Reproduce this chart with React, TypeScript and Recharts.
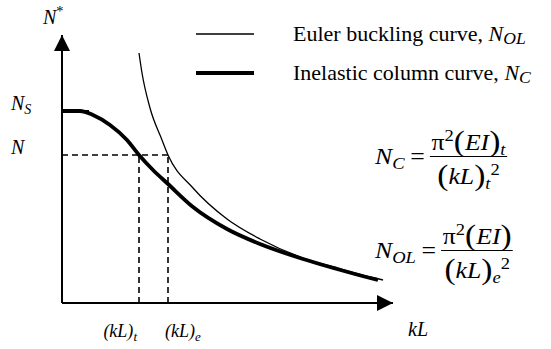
import React from "react"
import { ComposedChart, Line, XAxis, YAxis, ReferenceLine, ReferenceDot, Legend } from "recharts"

// schematic units: kL across, N* up
const eulerCurve = [
  { x: 77, y: 250 }, { x: 80, y: 230 }, { x: 88, y: 195 }, { x: 100, y: 163 },
  { x: 106, y: 148 }, { x: 131, y: 115 }, { x: 165, y: 84 }, { x: 198, y: 64 },
  { x: 241, y: 45 }, { x: 275, y: 35 }, { x: 308, y: 26 }, { x: 321, y: 23 },
]
const inelasticCurve = [
  { x: 0, y: 192 }, { x: 18, y: 192 }, { x: 31, y: 188 }, { x: 48, y: 178 },
  { x: 65, y: 163 }, { x: 77, y: 148 }, { x: 91, y: 133 }, { x: 106, y: 119 },
  { x: 131, y: 96 }, { x: 165, y: 74 }, { x: 198, y: 59 }, { x: 241, y: 44 },
  { x: 275, y: 34 }, { x: 308, y: 25 }, { x: 316, y: 23 },
]
const squashLoad = 192
const squashStubEnd = 27
const loadLevel = 148
const kLt = 77
const kLe = 106
const xMax = 331
const yMax = 268

const xTicks = [kLt, kLe]
const xTickSubs = ["t", "e"]
const yTicks = [loadLevel, squashLoad]
const yTickSubs = ["", "S"]

const legendNames = ["Euler buckling curve, ", "Inelastic column curve, "]
const legendSubs = ["OL", "C"]
const legendWidths = [1.3, 4]

const serif = "'Liberation Serif', 'Times New Roman', serif"

function Sub({ children, top = 0.28, size = 0.72 }: { children: React.ReactNode; top?: number; size?: number }) {
  return <span style={{ fontSize: `${size}em`, position: "relative", top: `${top}em` }}>{children}</span>
}
function Sup({ children }: { children: React.ReactNode }) {
  return <span style={{ fontSize: "0.72em", position: "relative", top: "-0.55em", fontStyle: "normal" }}>{children}</span>
}
function Paren({ c }: { c: string }) {
  return <span style={{ fontStyle: "normal", fontSize: "1.3em", lineHeight: 1, position: "relative", top: "0.04em" }}>{c}</span>
}

function XTick(props: any) {
  const { x, y, index } = props
  const right = index === 0
  return (
    <text x={right ? x - 2 : x - 3} y={y + 26} textAnchor={right ? "end" : "start"} fontFamily={serif} fontSize={18} fontStyle="italic" fill="#000">
      (kL)<tspan fontSize={13} dy={4}>{xTickSubs[index]}</tspan>
    </text>
  )
}

function YTick(props: any) {
  const { y, index } = props
  return (
    <text x={11} y={y - 1} fontFamily={serif} fontSize={20} fontStyle="italic" fill="#000">
      N<tspan fontSize={14} dy={4}>{yTickSubs[index]}</tspan>
    </text>
  )
}

function LegendBox() {
  return (
    <div style={{ fontFamily: serif, fontSize: 22, lineHeight: 1, textAlign: "left" }}>
      {legendNames.map((name, i) => (
        <div key={name} style={{ display: "flex", alignItems: "center", height: 39 }}>
          <svg width={58} height={10} style={{ marginRight: 39 }}>
            <line x1={0} x2={58} y1={5} y2={5} stroke="#000" strokeWidth={legendWidths[i]} />
          </svg>
          <span style={{ whiteSpace: "nowrap" }}>
            {name}
            <span style={{ fontStyle: "italic" }}>N<Sub size={0.8} top={0.22}>{legendSubs[i]}</Sub></span>
          </span>
        </div>
      ))}
    </div>
  )
}

function ArrowUp(props: any) {
  const { cx, cy } = props
  return <polygon points={`${cx},${cy} ${cx - 8},${cy + 16} ${cx + 8},${cy + 16}`} fill="#000" />
}
function ArrowRight(props: any) {
  const { cx, cy } = props
  return <polygon points={`${cx},${cy} ${cx - 16},${cy - 8} ${cx - 16},${cy + 8}`} fill="#000" />
}

function Fraction({ num, den }: { num: React.ReactNode; den: React.ReactNode }) {
  return (
    <div style={{ display: "inline-flex", flexDirection: "column", alignItems: "center" }}>
      <div style={{ padding: "0 1px 1px" }}>{num}</div>
      <div style={{ borderTop: "1.4px solid #000", alignSelf: "stretch" }} />
      <div style={{ paddingTop: 2 }}>{den}</div>
    </div>
  )
}

export default function App() {
  const formulaStyle: React.CSSProperties = {
    position: "absolute", display: "flex", alignItems: "center",
    fontFamily: serif, fontSize: 23, lineHeight: 1.05, color: "#000",
    transform: "scaleX(1.12)", transformOrigin: "left center",
  }
  return (
    <div style={{ position: "absolute", left: 0, top: 0, width: 551, height: 349, background: "#fff" }}>
      <ComposedChart width={551} height={349} margin={{ top: 35, right: 158, bottom: 16, left: 0 }}>
        <XAxis type="number" dataKey="x" domain={[0, xMax]} ticks={xTicks} tick={<XTick />} tickLine={false}
          axisLine={{ stroke: "#000", strokeWidth: 2 }} height={30} interval={0} />
        <YAxis type="number" domain={[0, yMax]} ticks={yTicks} tick={<YTick />} tickLine={false}
          axisLine={{ stroke: "#000", strokeWidth: 2 }} width={62} interval={0} />
        <ReferenceLine segment={[{ x: 0, y: loadLevel }, { x: kLe, y: loadLevel }]} stroke="#000" strokeWidth={1.6} strokeDasharray="6 4" />
        <ReferenceLine segment={[{ x: kLt, y: 0 }, { x: kLt, y: loadLevel }]} stroke="#000" strokeWidth={1.6} strokeDasharray="6 4" />
        <ReferenceLine segment={[{ x: kLe, y: 0 }, { x: kLe, y: loadLevel }]} stroke="#000" strokeWidth={1.6} strokeDasharray="6 4" />
        <ReferenceLine segment={[{ x: 0, y: squashLoad }, { x: squashStubEnd, y: squashLoad }]} stroke="#000" strokeWidth={2} />
        <Line data={eulerCurve} dataKey="y" type="monotone" stroke="#000" strokeWidth={1.3} dot={false} activeDot={false} isAnimationActive={false} name="Euler" />
        <Line data={inelasticCurve} dataKey="y" type="monotone" stroke="#000" strokeWidth={3.8} dot={false} activeDot={false} isAnimationActive={false} name="Inelastic" />
        <ReferenceDot x={0} y={yMax} r={0} ifOverflow="visible" shape={<ArrowUp />} />
        <ReferenceDot x={xMax} y={0} r={0} ifOverflow="visible" shape={<ArrowRight />} />
        <Legend content={<LegendBox />} layout="vertical" align="center" verticalAlign="middle"
          wrapperStyle={{ position: "absolute", left: 196, top: 14, width: 355 }} />
      </ComposedChart>

      <div style={{ position: "absolute", left: 43, top: 6, fontFamily: serif, fontSize: 20, fontStyle: "italic" }}>
        N<Sup>*</Sup>
      </div>
      <div style={{ position: "absolute", left: 408, top: 318, fontFamily: serif, fontSize: 20, fontStyle: "italic" }}>kL</div>

      <div style={{ ...formulaStyle, left: 375, top: 125 }}>
        <span style={{ fontStyle: "italic" }}>N<Sub>C</Sub></span>
        <span style={{ margin: "0 5px" }}>=</span>
        <Fraction
          num={<span>π<Sup>2</Sup><Paren c="(" /><i>EI</i><Paren c=")" /><i><Sub>t</Sub></i></span>}
          den={<span><Paren c="(" /><i>kL</i><Paren c=")" /><i><Sub>t</Sub></i><Sup>2</Sup></span>}
        />
      </div>
      <div style={{ ...formulaStyle, left: 375, top: 219 }}>
        <span style={{ fontStyle: "italic" }}>N<Sub>OL</Sub></span>
        <span style={{ margin: "0 5px" }}>=</span>
        <Fraction
          num={<span>π<Sup>2</Sup><Paren c="(" /><i>EI</i><Paren c=")" /></span>}
          den={<span><Paren c="(" /><i>kL</i><Paren c=")" /><i><Sub>e</Sub></i><Sup>2</Sup></span>}
        />
      </div>
    </div>
  )
}
